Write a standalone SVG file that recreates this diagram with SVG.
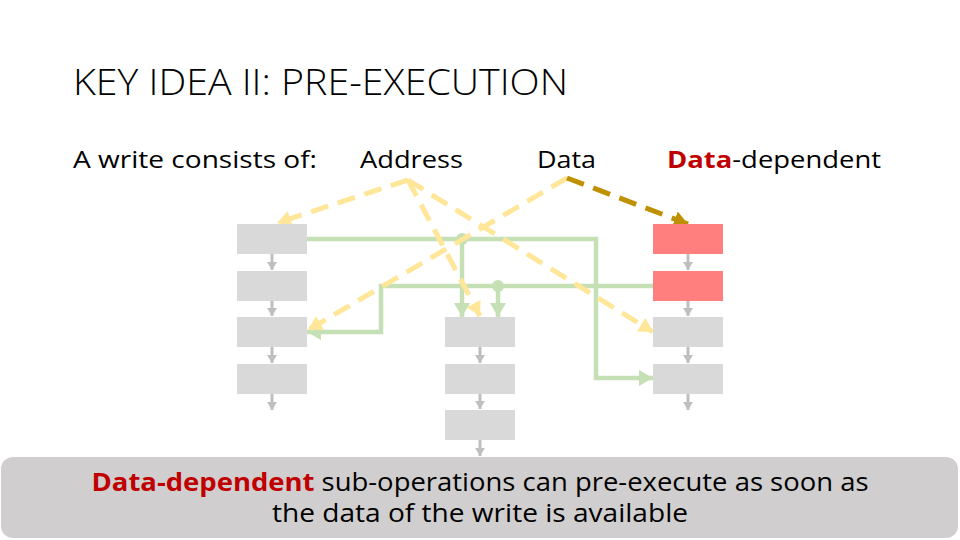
<svg xmlns="http://www.w3.org/2000/svg" width="960" height="540" viewBox="0 0 960 540">
<style>
.box{fill:#D9D9D9}
.red{fill:#FF7F7F}
.ga{stroke:#BFBFBF;stroke-width:3;fill:none}
.green{stroke:#C5E0B4;stroke-width:4.5;fill:none}
.yel{stroke:#FFE699;stroke-width:5;fill:none;stroke-dasharray:18 10}
.gold{stroke:#BF9000;stroke-width:5;fill:none;stroke-dasharray:18 10}
.t{font-family:"Open Sans","Liberation Sans",Arial,sans-serif;fill:#000}
</style>
<defs>
<marker id="mg" markerUnits="userSpaceOnUse" markerWidth="12" markerHeight="12" refX="8" refY="6" orient="auto"><path d="M0,1 L8,6 L0,11 Z" fill="#BFBFBF"/></marker>
<marker id="mgr" markerUnits="userSpaceOnUse" markerWidth="18" markerHeight="18" refX="14" refY="9" orient="auto"><path d="M0,1 L14,9 L0,17 Z" fill="#C5E0B4"/></marker>
<marker id="my" markerUnits="userSpaceOnUse" markerWidth="18" markerHeight="18" refX="14" refY="9" orient="auto"><path d="M0,1 L14,9 L0,17 Z" fill="#FFE699"/></marker>
<marker id="mo" markerUnits="userSpaceOnUse" markerWidth="18" markerHeight="18" refX="14" refY="9" orient="auto"><path d="M0,1 L14,9 L0,17 Z" fill="#BF9000"/></marker>
</defs>
<rect width="960" height="540" fill="#fff"/>
<text class="t" x="73" y="95" font-size="36" textLength="495" lengthAdjust="spacingAndGlyphs" font-weight="300">KEY IDEA II: PRE-EXECUTION</text>
<text class="t" x="73" y="168" font-size="24" textLength="244" lengthAdjust="spacingAndGlyphs">A write consists of:</text>
<text class="t" x="360" y="168" font-size="24" textLength="103" lengthAdjust="spacingAndGlyphs">Address</text>
<text class="t" x="537" y="168" font-size="24" textLength="59" lengthAdjust="spacingAndGlyphs">Data</text>
<text class="t" x="667" y="168" font-size="24" textLength="214" lengthAdjust="spacingAndGlyphs"><tspan fill="#C00000" font-weight="bold">Data</tspan>-dependent</text>

<g id="connectors">
<g id="gray-arrows">
<line class="ga" x1="272" y1="254" x2="272" y2="270" marker-end="url(#mg)"/>
<line class="ga" x1="272" y1="301" x2="272" y2="316" marker-end="url(#mg)"/>
<line class="ga" x1="272" y1="347" x2="272" y2="363" marker-end="url(#mg)"/>
<line class="ga" x1="272" y1="394" x2="272" y2="410" marker-end="url(#mg)"/>
<line class="ga" x1="480" y1="347" x2="480" y2="363" marker-end="url(#mg)"/>
<line class="ga" x1="480" y1="394" x2="480" y2="409" marker-end="url(#mg)"/>
<line class="ga" x1="480" y1="440" x2="480" y2="456" marker-end="url(#mg)"/>
<line class="ga" x1="688" y1="254" x2="688" y2="270" marker-end="url(#mg)"/>
<line class="ga" x1="688" y1="301" x2="688" y2="316" marker-end="url(#mg)"/>
<line class="ga" x1="688" y1="347" x2="688" y2="363" marker-end="url(#mg)"/>
<line class="ga" x1="688" y1="394" x2="688" y2="410" marker-end="url(#mg)"/>
</g>
<g id="green">
<polyline class="green" points="307,239 596,239 596,378 653,378" marker-end="url(#mgr)"/>
<line class="green" x1="462" y1="239" x2="462" y2="317" marker-end="url(#mgr)"/>
<circle cx="462" cy="239" r="6" fill="#C5E0B4"/>
<polyline class="green" points="653,286 381,286 381,332 307,332" marker-end="url(#mgr)"/>
<line class="green" x1="498" y1="286" x2="498" y2="317" marker-end="url(#mgr)"/>
<circle cx="498" cy="286" r="6" fill="#C5E0B4"/>
</g>
<g id="yellow">
<line class="yel" x1="408" y1="180" x2="277" y2="223" marker-end="url(#my)"/>
<line class="yel" x1="408" y1="180" x2="480" y2="316" marker-end="url(#my)"/>
<line class="yel" x1="408" y1="180" x2="653" y2="332" marker-end="url(#my)"/>
<line class="yel" x1="567" y1="178" x2="308" y2="330" marker-end="url(#my)"/>
<line class="gold" x1="567" y1="178" x2="688" y2="224" marker-end="url(#mo)"/>
</g>
</g>

<g id="col-left">
<rect id="L1" class="box" x="237" y="224" width="70" height="30"/>
<rect id="L2" class="box" x="237" y="271" width="70" height="30"/>
<rect id="L3" class="box" x="237" y="317" width="70" height="30"/>
<rect id="L4" class="box" x="237" y="364" width="70" height="30"/>
</g>
<g id="col-mid">
<rect id="M1" class="box" x="445" y="317" width="70" height="30"/>
<rect id="M2" class="box" x="445" y="364" width="70" height="30"/>
<rect id="M3" class="box" x="445" y="410" width="70" height="30"/>
</g>
<g id="col-right">
<rect id="R1" class="red" x="653" y="224" width="70" height="30"/>
<rect id="R2" class="red" x="653" y="271" width="70" height="30"/>
<rect id="R3" class="box" x="653" y="317" width="70" height="30"/>
<rect id="R4" class="box" x="653" y="364" width="70" height="30"/>
</g>
<g id="panel">
<rect x="1" y="457" width="957" height="81" rx="12" fill="#D0CECE"/>
<text class="t" x="480" y="491" font-size="25" text-anchor="middle" textLength="777" lengthAdjust="spacingAndGlyphs"><tspan fill="#C00000" font-weight="bold">Data-dependent</tspan> sub-operations can pre-execute as soon as</text>
<text class="t" x="480" y="522" font-size="25" text-anchor="middle" textLength="416" lengthAdjust="spacingAndGlyphs">the data of the write is available</text>
</g>
</svg>
